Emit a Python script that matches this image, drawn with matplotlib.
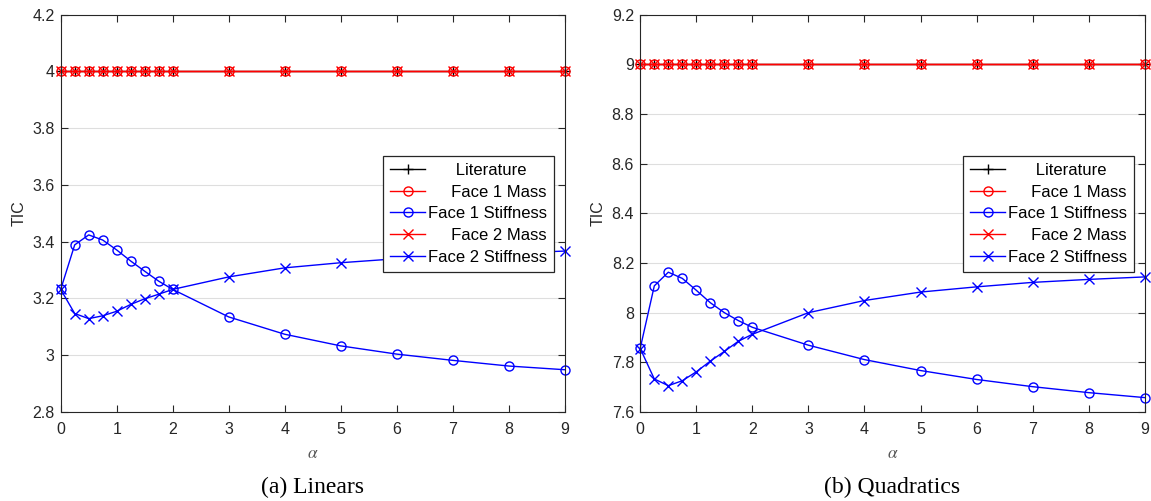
import numpy as np
import matplotlib
matplotlib.use("Agg")
import matplotlib.pyplot as plt
from matplotlib.ticker import FuncFormatter

# ---------------- data ----------------
alpha = [0, 0.25, 0.5, 0.75, 1, 1.25, 1.5, 1.75, 2, 3, 4, 5, 6, 7, 8, 9]

lin_literature = [4.0] * 16
lin_face1_mass = [4.0] * 16
lin_face1_stiff = [3.232, 3.389, 3.424, 3.406, 3.371, 3.332, 3.296, 3.261, 3.232,
                   3.135, 3.074, 3.033, 3.004, 2.982, 2.962, 2.949]
lin_face2_mass = [4.0] * 16
lin_face2_stiff = [3.232, 3.147, 3.129, 3.139, 3.155, 3.179, 3.199, 3.215, 3.232,
                   3.276, 3.308, 3.326, 3.340, 3.351, 3.360, 3.367]

quad_literature = [9.0] * 16
quad_face1_mass = [9.0] * 16
quad_face1_stiff = [7.858, 8.108, 8.163, 8.138, 8.090, 8.040, 8.000, 7.968, 7.941,
                    7.869, 7.811, 7.767, 7.731, 7.702, 7.678, 7.658]
quad_face2_mass = [9.0] * 16
quad_face2_stiff = [7.855, 7.733, 7.706, 7.726, 7.762, 7.805, 7.844, 7.885, 7.913,
                    8.000, 8.049, 8.083, 8.104, 8.122, 8.134, 8.144]

lin_yticks = [2.8, 3.0, 3.2, 3.4, 3.6, 3.8, 4.0, 4.2]
quad_yticks = [7.6, 7.8, 8.0, 8.2, 8.4, 8.6, 8.8, 9.0, 9.2]
xticks = [0, 1, 2, 3, 4, 5, 6, 7, 8, 9]

legend_labels = ["      Literature", "     Face 1 Mass", "Face 1 Stiffness",
                 "     Face 2 Mass", "Face 2 Stiffness"]
captions = ["(a) Linears", "(b) Quadratics"]

# ---------------- style ----------------
plt.rcParams['font.family'] = ['Liberation Sans', 'DejaVu Sans']
plt.rcParams['mathtext.fontset'] = 'stix'
AXC = '#262626'
FS = 11.5
LFS = 12

fig = plt.figure(figsize=(11.51, 5.01), dpi=100)
W, H = 1151, 501
ax_boxes = [[60.7 / W, (H - 412) / H, 504 / W, 397.3 / H],
            [640.3 / W, (H - 412) / H, 504.4 / W, 397.3 / H]]

panels = [
    (lin_literature, lin_face1_mass, lin_face1_stiff, lin_face2_mass, lin_face2_stiff, lin_yticks),
    (quad_literature, quad_face1_mass, quad_face1_stiff, quad_face2_mass, quad_face2_stiff, quad_yticks),
]

fmt = FuncFormatter(lambda v, p: ('%g' % round(v, 4)))

for i, (lit, f1m, f1s, f2m, f2s, yt) in enumerate(panels):
    ax = fig.add_axes(ax_boxes[i])
    ms = 6.5
    lw = 1.0
    h1, = ax.plot(alpha, lit, color='black', marker='+', ms=ms + 1, mew=lw, lw=lw)
    h2, = ax.plot(alpha, f1m, color='#ff0000', marker='o', ms=ms, mfc='none', mew=lw, lw=lw)
    h3, = ax.plot(alpha, f1s, color='#0000ff', marker='o', ms=ms, mfc='none', mew=lw, lw=lw)
    h4, = ax.plot(alpha, f2m, color='#ff0000', marker='x', ms=ms, mew=lw, lw=lw)
    h5, = ax.plot(alpha, f2s, color='#0000ff', marker='x', ms=ms, mew=lw, lw=lw)
    for ln in (h1, h2, h3, h4, h5):
        ln.set_clip_on(False)

    ax.set_xlim(0, 9)
    ax.set_ylim(yt[0], yt[-1])
    ax.set_xticks(xticks)
    ax.set_yticks(yt)
    ax.yaxis.set_major_formatter(fmt)
    ax.grid(axis='y', color='#dedede', lw=0.8)
    ax.set_axisbelow(True)
    ax.tick_params(direction='in', top=True, right=True, length=5, width=0.8,
                   colors=AXC, labelsize=FS)
    ax.tick_params(axis='x', pad=7)
    ax.tick_params(axis='y', pad=4.5)
    for s in ax.spines.values():
        s.set_color(AXC)
        s.set_linewidth(0.8)

    ax.set_ylabel('TIC', fontsize=FS, color=AXC, labelpad=4)
    ax.set_xlabel(r'$\alpha$', fontsize=FS + 1, color='#555555', labelpad=7)

    leg = ax.legend([h1, h2, h3, h4, h5], legend_labels, loc='lower left',
                    bbox_to_anchor=(0.640, 0.353), borderaxespad=0, fontsize=LFS,
                    frameon=True, fancybox=False, framealpha=1, edgecolor=AXC,
                    handlelength=2.1, handletextpad=0.16, labelspacing=0.40,
                    borderpad=0.43)
    leg.get_frame().set_linewidth(0.9)
    for t in leg.get_texts():
        t.set_color('black')

    cx = (ax_boxes[i][0] + ax_boxes[i][2] / 2)
    fig.text(cx, (H - 487) / H, captions[i], ha='center', va='center',
             family=['Liberation Serif', 'DejaVu Serif'], fontsize=17)

fig.savefig('out.png', dpi=100)
